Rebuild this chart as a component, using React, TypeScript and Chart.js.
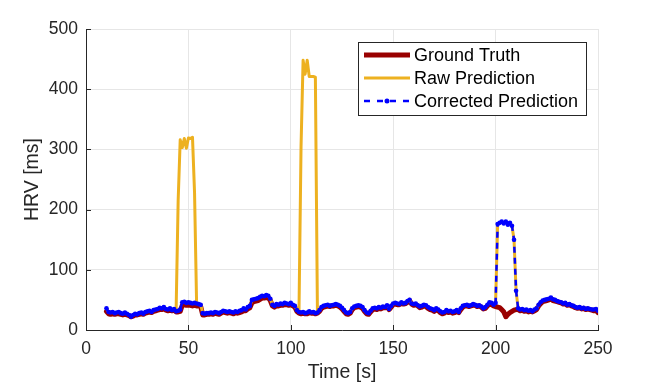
import React, { useEffect, useRef } from "react";
import { Chart, registerables } from "chart.js";

Chart.register(...registerables);

const T_START = 10; // seconds, one sample per second
const X_TICKS = [0, 50, 100, 150, 200, 250];
const Y_TICKS = [0, 100, 200, 300, 400, 500];
const SERIES_NAMES = ["Ground Truth", "Raw Prediction", "Corrected Prediction"];

const groundTruth = [
  31, 27, 26, 27, 26, 27, 27, 26, 25, 26,
  25, 24, 22, 23, 25, 25, 26, 27, 26, 28,
  29, 30, 29, 31, 32, 33, 34, 34, 35, 33,
  32, 33, 32, 33, 30, 30, 31, 41, 42, 41,
  41, 41, 40, 41, 40, 40, 39, 25, 25, 26,
  26, 27, 26, 28, 27, 26, 28, 30, 29, 28,
  29, 28, 27, 29, 28, 29, 30, 32, 32, 35,
  37, 45, 47, 48, 49, 51, 53, 53, 54, 54,
  49, 40, 38, 40, 40, 41, 41, 42, 42, 41,
  42, 40, 38, 31, 28, 27, 28, 27, 27, 29,
  28, 28, 27, 28, 31, 36, 38, 39, 40, 39,
  40, 40, 41, 40, 38, 35, 31, 27, 26, 28,
  34, 37, 38, 39, 38, 36, 31, 27, 26, 30,
  34, 35, 34, 36, 35, 37, 37, 39, 34, 38,
  42, 43, 42, 42, 44, 43, 44, 46, 49, 43,
  41, 42, 40, 37, 38, 40, 39, 36, 34, 33,
  31, 34, 32, 29, 27, 28, 31, 29, 30, 28,
  29, 31, 29, 34, 38, 40, 40, 39, 40, 41,
  41, 39, 40, 38, 35, 36, 40, 43, 42, 40,
  39, 38, 37, 34, 30, 22, 26, 29, 31, 33,
  34, 34, 32, 33, 31, 32, 30, 31, 30, 32,
  34, 40, 44, 47, 48, 49, 50, 52, 49, 48,
  47, 46, 45, 43, 44, 41, 42, 40, 39, 37,
  36, 37, 35, 36, 34, 35, 34, 33, 32, 33,
  29,
];

const rawPrediction = [
  36, 30, 29, 30, 28, 29, 30, 28, 27, 29,
  27, 25, 22, 25, 27, 26, 28, 29, 27, 30,
  31, 32, 30, 33, 34, 35, 37, 36, 38, 35,
  34, 36, 33, 35, 32, 215, 316, 303, 318, 302,
  319, 318, 320, 228, 44, 43, 42, 28, 27, 28,
  28, 29, 28, 30, 29, 28, 30, 32, 31, 30,
  31, 30, 29, 31, 30, 32, 33, 36, 34, 38,
  40, 50, 51, 52, 53, 55, 57, 56, 58, 57,
  52, 42, 40, 43, 42, 44, 43, 45, 44, 43,
  45, 42, 40, 33, 30, 305, 448, 425, 448, 421,
  421, 421, 420, 29, 33, 38, 40, 41, 42, 40,
  41, 42, 43, 42, 40, 37, 33, 29, 28, 30,
  36, 39, 40, 41, 40, 38, 33, 29, 28, 32,
  36, 37, 36, 38, 37, 39, 38, 41, 35, 40,
  44, 45, 44, 43, 46, 44, 45, 48, 50, 44,
  43, 44, 41, 39, 40, 42, 41, 38, 36, 35,
  33, 36, 34, 31, 29, 30, 33, 31, 32, 30,
  31, 33, 30, 36, 40, 41, 42, 40, 41, 43,
  42, 40, 41, 39, 36, 38, 42, 46, 45, 42,
  45, 176, 178, 180, 177, 180, 175, 178, 173, 150,
  65, 36, 34, 35, 33, 34, 32, 33, 31, 34,
  36, 42, 46, 49, 50, 51, 52, 54, 51, 50,
  48, 47, 46, 44, 45, 42, 43, 41, 40, 38,
  37, 38, 36, 37, 35, 36, 35, 34, 34, 35,
  32,
];

const correctedPrediction = [
  36, 30, 29, 30, 28, 29, 30, 28, 27, 29,
  27, 25, 22, 25, 27, 26, 28, 29, 27, 30,
  31, 32, 30, 33, 34, 35, 37, 36, 38, 35,
  34, 36, 33, 35, 31, 32, 34, 46, 47, 45,
  46, 45, 44, 45, 44, 43, 42, 28, 27, 28,
  28, 29, 28, 30, 29, 28, 30, 32, 31, 30,
  31, 30, 29, 31, 30, 32, 33, 36, 34, 38,
  40, 50, 51, 52, 53, 55, 57, 56, 58, 57,
  52, 42, 40, 43, 42, 44, 43, 45, 44, 43,
  45, 42, 40, 33, 30, 29, 30, 28, 29, 31,
  29, 30, 28, 29, 33, 38, 40, 41, 42, 40,
  41, 42, 43, 42, 40, 37, 33, 29, 28, 30,
  36, 39, 40, 41, 40, 38, 33, 29, 28, 32,
  36, 37, 36, 38, 37, 39, 38, 41, 35, 40,
  44, 45, 44, 43, 46, 44, 45, 48, 50, 44,
  43, 44, 41, 39, 40, 42, 41, 38, 36, 35,
  33, 36, 34, 31, 29, 30, 33, 31, 32, 30,
  31, 33, 30, 36, 40, 41, 42, 40, 41, 43,
  42, 40, 41, 39, 36, 38, 42, 46, 45, 42,
  45, 176, 178, 180, 177, 180, 175, 178, 173, 150,
  65, 36, 34, 35, 33, 34, 32, 33, 31, 34,
  36, 42, 46, 49, 50, 51, 52, 54, 51, 50,
  48, 47, 46, 44, 45, 42, 43, 41, 40, 38,
  37, 38, 36, 37, 35, 36, 35, 34, 34, 35,
  32,
];

const FONT = "'Liberation Sans', Arial, Helvetica, sans-serif";
const AXIS_COLOR = "#262626";
const GRID_COLOR = "#e6e6e6";
const GT_COLOR = "#990000";
const RAW_COLOR = "#EDB120";
const COR_COLOR = "#0000FF";

const toPoints = (vals: number[]) => vals.map((v, i) => ({ x: T_START + i, y: v }));

const inwardTicks = {
  id: "inwardTicks",
  afterDatasetsDraw(chart: any) {
    const { ctx, chartArea, scales } = chart;
    ctx.save();
    ctx.strokeStyle = AXIS_COLOR;
    ctx.lineWidth = 1;
    X_TICKS.forEach((t) => {
      const px = Math.round(scales.x.getPixelForValue(t)) + 0.5;
      ctx.beginPath();
      ctx.moveTo(px, chartArea.bottom);
      ctx.lineTo(px, chartArea.bottom - 5);
      ctx.stroke();
    });
    Y_TICKS.forEach((t) => {
      const py = Math.round(scales.y.getPixelForValue(t)) + 0.5;
      ctx.beginPath();
      ctx.moveTo(chartArea.left, py);
      ctx.lineTo(chartArea.left + 5, py);
      ctx.stroke();
    });
    ctx.restore();
  },
};

const boxLegend = {
  id: "boxLegend",
  afterDraw(chart: any) {
    const { ctx, chartArea } = chart;
    const w = 228;
    const h = 73;
    const x0 = chartArea.right - 12 - w;
    const y0 = chartArea.top + 13;
    ctx.save();
    ctx.fillStyle = "#ffffff";
    ctx.fillRect(x0, y0, w, h);
    ctx.strokeStyle = AXIS_COLOR;
    ctx.lineWidth = 1;
    ctx.strokeRect(Math.round(x0) + 0.5, Math.round(y0) + 0.5, w, h);
    const rows = [y0 + 13, y0 + 36, y0 + 59];
    const lx0 = x0 + 6;
    const lx1 = x0 + 52;
    ctx.lineCap = "butt";
    // Ground truth
    ctx.strokeStyle = GT_COLOR;
    ctx.lineWidth = 5;
    ctx.beginPath();
    ctx.moveTo(lx0, rows[0]);
    ctx.lineTo(lx1, rows[0]);
    ctx.stroke();
    // Raw
    ctx.strokeStyle = RAW_COLOR;
    ctx.lineWidth = 3;
    ctx.beginPath();
    ctx.moveTo(lx0, rows[1]);
    ctx.lineTo(lx1, rows[1]);
    ctx.stroke();
    // Corrected
    ctx.strokeStyle = COR_COLOR;
    ctx.lineWidth = 2.5;
    ctx.setLineDash([6, 7]);
    ctx.beginPath();
    ctx.moveTo(lx0, rows[2]);
    ctx.lineTo(lx1, rows[2]);
    ctx.stroke();
    ctx.setLineDash([]);
    ctx.fillStyle = COR_COLOR;
    ctx.beginPath();
    ctx.arc((lx0 + lx1) / 2, rows[2], 2.5, 0, Math.PI * 2);
    ctx.fill();
    // text
    ctx.fillStyle = "#000000";
    ctx.font = `18px ${FONT}`;
    ctx.textBaseline = "middle";
    ctx.textAlign = "left";
    SERIES_NAMES.forEach((name, i) => {
      ctx.fillText(name, x0 + 56, rows[i] + 1);
    });
    ctx.restore();
  },
};

export default function App() {
  const ref = useRef<HTMLCanvasElement | null>(null);
  useEffect(() => {
    if (!ref.current) return;
    const chart = new Chart(ref.current, {
      type: "line",
      data: {
        datasets: [
          {
            label: SERIES_NAMES[0],
            data: toPoints(groundTruth),
            borderColor: GT_COLOR,
            backgroundColor: GT_COLOR,
            borderWidth: 5,
            borderJoinStyle: "round",
            borderCapStyle: "round",
            pointRadius: 0,
            tension: 0,
            order: 3,
          },
          {
            label: SERIES_NAMES[1],
            data: toPoints(rawPrediction),
            borderColor: RAW_COLOR,
            backgroundColor: RAW_COLOR,
            borderWidth: 3,
            borderJoinStyle: "round",
            borderCapStyle: "round",
            pointRadius: 0,
            tension: 0,
            order: 2,
          },
          {
            label: SERIES_NAMES[2],
            data: toPoints(correctedPrediction),
            borderColor: COR_COLOR,
            backgroundColor: COR_COLOR,
            borderWidth: 2.5,
            borderDash: [6, 5],
            borderJoinStyle: "round",
            pointRadius: 2.3,
            pointBorderWidth: 0,
            pointBackgroundColor: COR_COLOR,
            tension: 0,
            order: 1,
          },
        ],
      },
      options: {
        animation: false,
        responsive: false,
        maintainAspectRatio: false,
        layout: { padding: { left: 0, top: 29, right: 63, bottom: 0 } },
        plugins: { legend: { display: false }, tooltip: { enabled: false } },
        scales: {
          x: {
            type: "linear",
            min: 0,
            max: 250,
            afterFit: (s: any) => {
              s.height = 56;
            },
            afterBuildTicks: (s: any) => {
              s.ticks = X_TICKS.map((v) => ({ value: v }));
            },
            ticks: {
              color: AXIS_COLOR,
              font: { family: FONT, size: 17.5 },
              padding: 9,
              maxRotation: 0,
            },
            grid: { color: GRID_COLOR, drawTicks: false, lineWidth: 1 },
            border: { color: AXIS_COLOR, width: 1 },
            title: {
              display: true,
              text: "Time [s]",
              color: AXIS_COLOR,
              font: { family: FONT, size: 19.5 },
              padding: { top: 0, bottom: 2 },
            },
          },
          y: {
            type: "linear",
            min: 0,
            max: 500,
            afterFit: (s: any) => {
              s.width = 86;
            },
            afterBuildTicks: (s: any) => {
              s.ticks = Y_TICKS.map((v) => ({ value: v }));
            },
            ticks: {
              color: AXIS_COLOR,
              font: { family: FONT, size: 17.5 },
              padding: 8,
            },
            grid: { color: GRID_COLOR, drawTicks: false, lineWidth: 1 },
            border: { color: AXIS_COLOR, width: 1 },
            title: {
              display: true,
              text: "HRV [ms]",
              color: AXIS_COLOR,
              font: { family: FONT, size: 19.5 },
              padding: { top: 21, bottom: 0 },
            },
          },
        },
      },
      plugins: [inwardTicks, boxLegend],
    });
    return () => chart.destroy();
  }, []);
  return (
    <div style={{ position: "fixed", left: 0, top: 0, width: 661, height: 386, background: "#fff" }}>
      <canvas ref={ref} width={661} height={386} style={{ width: 661, height: 386 }} />
    </div>
  );
}
